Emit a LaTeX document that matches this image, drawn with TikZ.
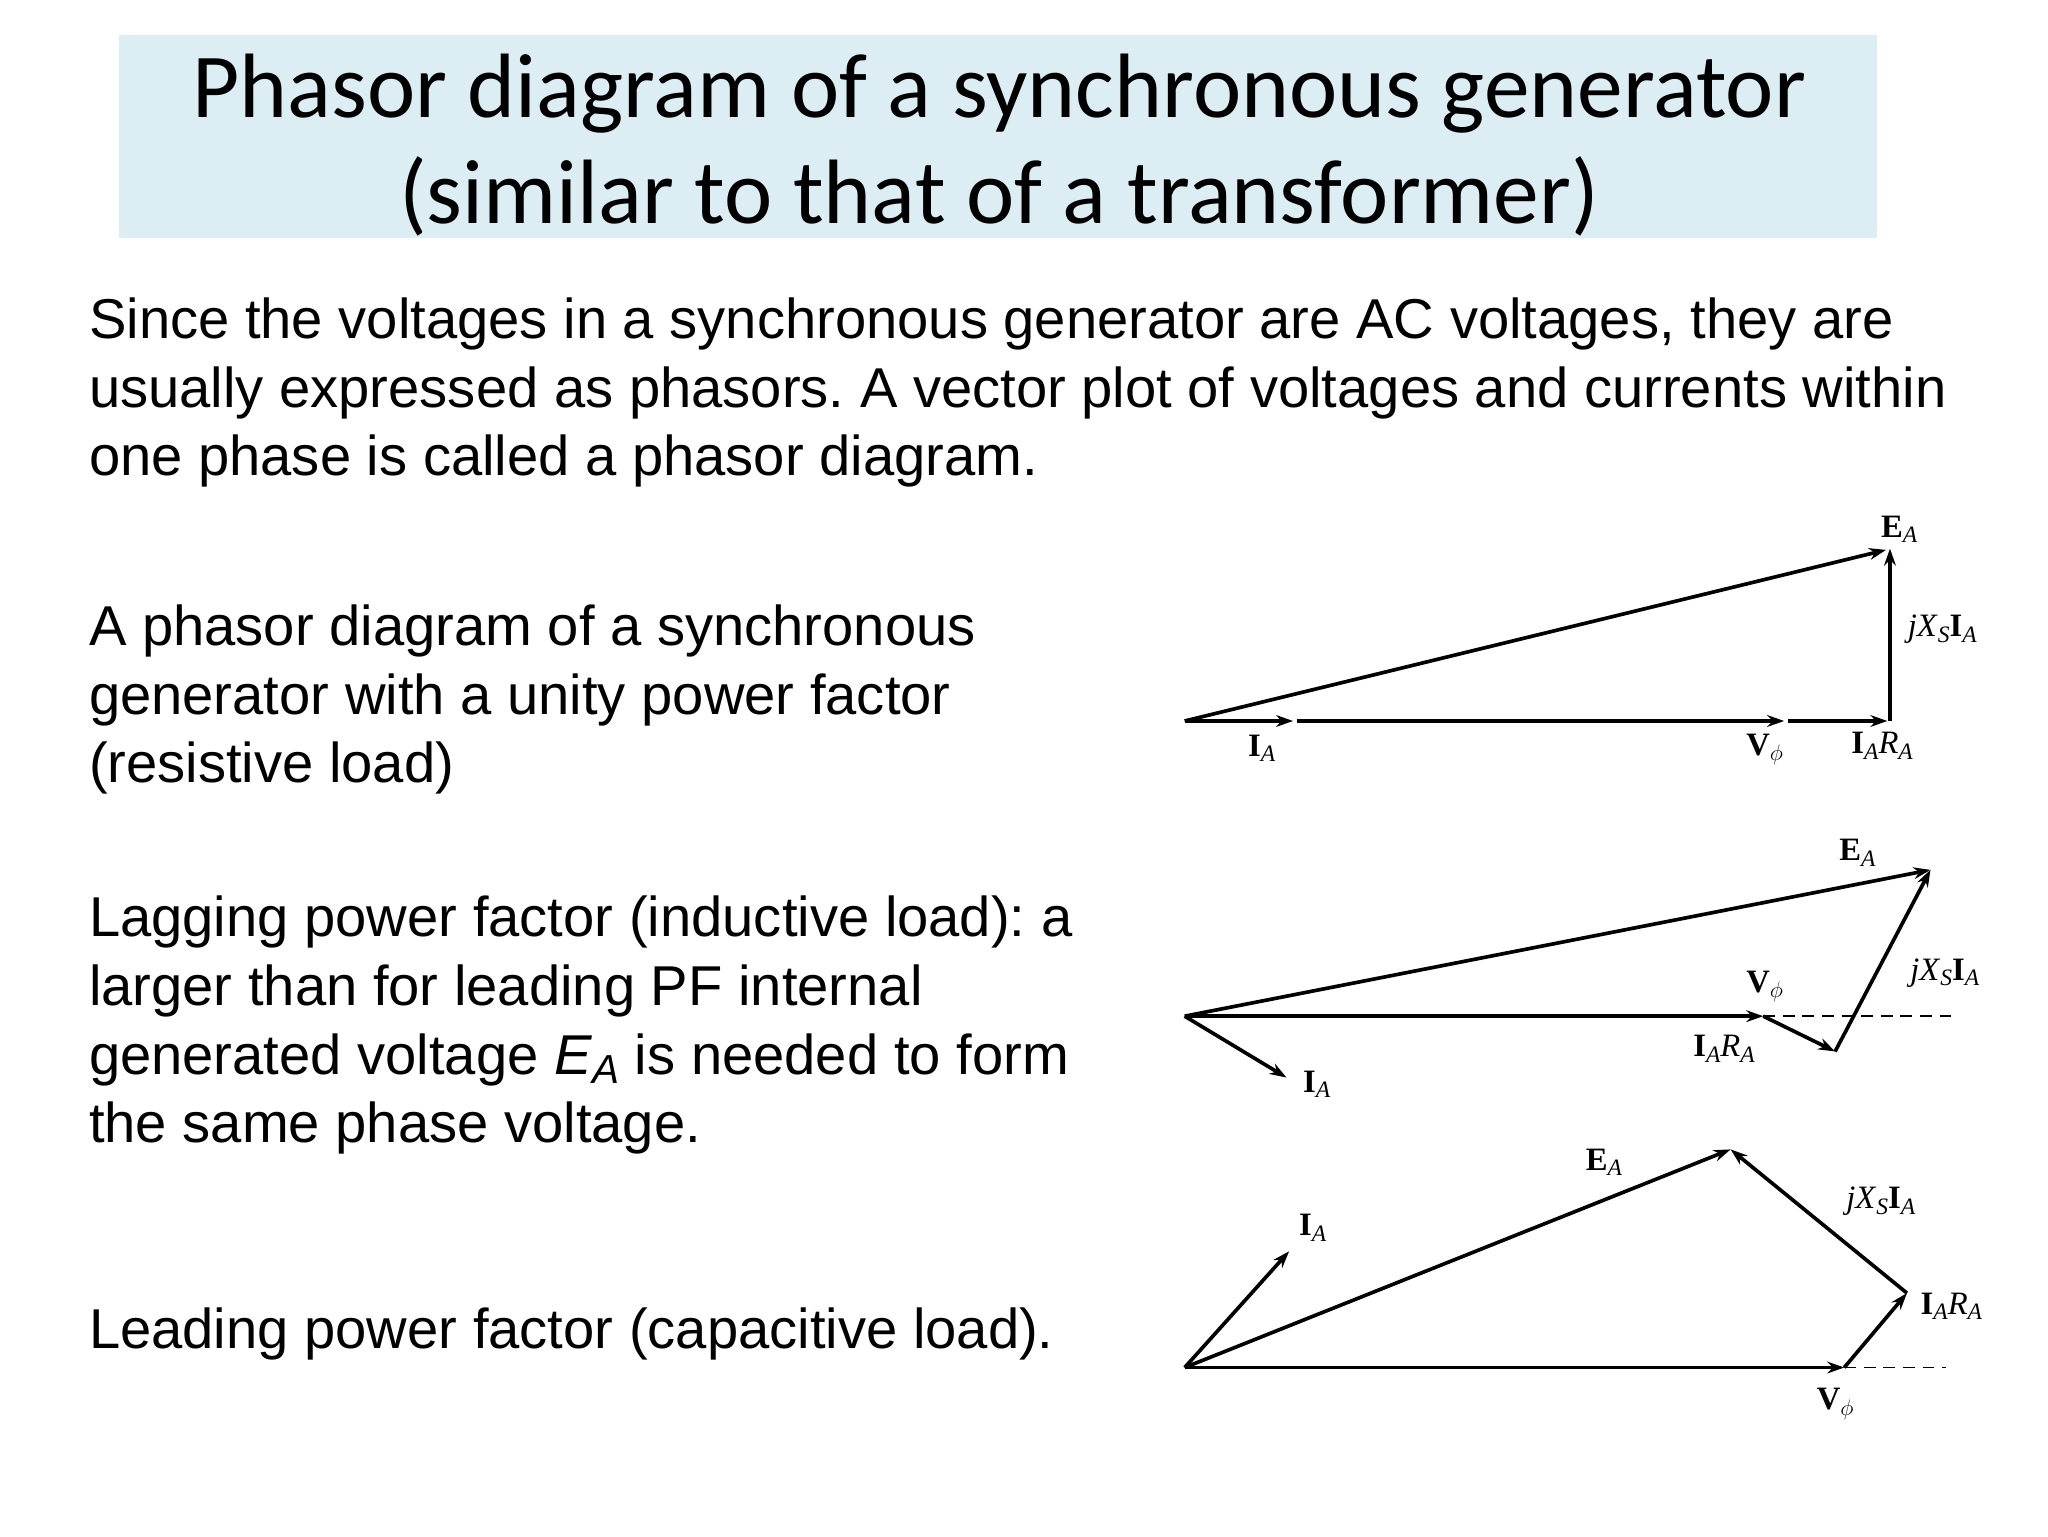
\documentclass[tikz,border=0pt]{standalone}
\usepackage{fontspec}
\setmainfont{Liberation Sans}
\newfontfamily\titlefont{Carlito}
\newfontfamily\tnr{Liberation Serif}
\usetikzlibrary{arrows.meta}
\frenchspacing
\newcommand{\sbx}[1]{\raisebox{-0.35ex}{\fontsize{18}{18}\selectfont\itshape #1}}
\newcommand{\bv}[2]{{\tnr\fontsize{25}{25}\selectfont\textbf{#1}\sbx{#2}}}
\newcommand{\jx}{{\tnr\fontsize{25}{25}\selectfont\textit{jX}\sbx{S}\textbf{I}\sbx{A}}}
\newcommand{\iara}{{\tnr\fontsize{25}{25}\selectfont\textbf{I}\sbx{A}\textit{R}\sbx{A}}}
\newcommand{\vphi}{{\tnr\fontsize{25}{25}\selectfont\textbf{V}\raisebox{-0.35ex}{\fontsize{18}{18}\selectfont$\phi$}}}
\tikzset{
 ph/.style={line width=2.8pt,-{Stealth[length=13pt,width=9pt]}},
 lb/.style={inner sep=1pt},
 bodytext/.style={anchor=north west,align=left,font=\fontsize{43}{52.5}\selectfont\frenchspacing,inner sep=0pt},
}
\begin{document}
\begin{tikzpicture}[x=1pt,y=-1pt]
\useasboundingbox[fill=white] (0,0) rectangle (1568,1176);
\fill[fill={rgb,255:red,220;green,237;blue,243}] (91,27) rectangle (1437,182);
\node[font=\titlefont\fontsize{70}{81}\selectfont,align=center] (title) at (765,111)
 {Phasor diagram of a synchronous generator\\(similar to that of a transformer)};
\node[bodytext] (p1) at (68,228) {Since the voltages in a synchronous generator are AC voltages, they are\\usually expressed as phasors. A vector plot of voltages and currents within\\one phase is called a phasor diagram.};
\node[bodytext] (p2) at (68,463) {A phasor diagram of a synchronous\\generator with a unity power factor\\(resistive load)};
\node[bodytext] (p3) at (68,686) {Lagging power factor (inductive load): a\\larger than for leading PF internal\\generated voltage \textit{E}\raisebox{-0.3ex}{\fontsize{31}{31}\selectfont\textit{A}} is needed to form\\the same phase voltage.};
\node[bodytext] (p4) at (68,1001) {Leading power factor (capacitive load).};
% diagram 1
\coordinate (o1) at (907,552);
\coordinate (i1) at (990,552);
\coordinate (v1s) at (993,552);
\coordinate (v1) at (1366,552);
\coordinate (r1s) at (1369,552);
\coordinate (r1) at (1445,552);
\coordinate (x1s) at (1447,552);
\coordinate (e1) at (1447,420);
\draw[ph] (o1) -- (i1);
\draw[ph] (v1s) -- (v1);
\draw[ph] (r1s) -- (r1);
\draw[ph] (x1s) -- (e1);
\draw[ph] (o1) -- (1444,421);
\node[lb] (le1) at (1454,405) {\bv{E}{A}};
\node[lb] (lx1) at (1487,482) {\jx};
\node[lb] (li1) at (966,573) {\bv{I}{A}};
\node[lb] (lv1) at (1351,574) {\vphi};
\node[lb] (lr1) at (1441,571) {\iara};
% diagram 2
\coordinate (o2) at (907,778);
\coordinate (v2) at (1350,778);
\coordinate (r2) at (1405,805);
\coordinate (e2) at (1478,666);
\coordinate (d2) at (1497,778);
\draw[ph] (o2) -- (v2);
\draw[line width=1.3pt,dash pattern=on 9pt off 6pt] (v2) -- (d2);
\draw[ph] (v2) -- (r2);
\draw[ph] (r2) -- (e2);
\draw[ph] (o2) -- (e2);
\draw[ph] (o2) -- (985,825);
\node[lb] (le2) at (1422,653) {\bv{E}{A}};
\node[lb] (lx2) at (1489,745) {\jx};
\node[lb] (lv2) at (1351,755) {\vphi};
\node[lb] (lr2) at (1320,803) {\iara};
\node[lb] (li2) at (1008,830) {\bv{I}{A}};
% diagram 3
\coordinate (o3) at (907,1047);
\coordinate (v3) at (1412,1047);
\coordinate (r3) at (1460,990);
\coordinate (e3) at (1325,880);
\coordinate (d3) at (1490,1047);
\draw[ph] (o3) -- (v3);
\draw[line width=1.3pt,dash pattern=on 9pt off 6pt] (v3) -- (d3);
\draw[ph] (v3) -- (r3);
\draw[ph] (r3) -- (e3);
\draw[ph] (o3) -- (e3);
\draw[ph] (o3) -- (987,958);
\node[lb] (le3) at (1228,890) {\bv{E}{A}};
\node[lb] (lx3) at (1440,920) {\jx};
\node[lb] (li3) at (1005,940) {\bv{I}{A}};
\node[lb] (lr3) at (1494,1000) {\iara};
\node[lb] (lv3) at (1405,1075) {\vphi};
\end{tikzpicture}
\end{document}
